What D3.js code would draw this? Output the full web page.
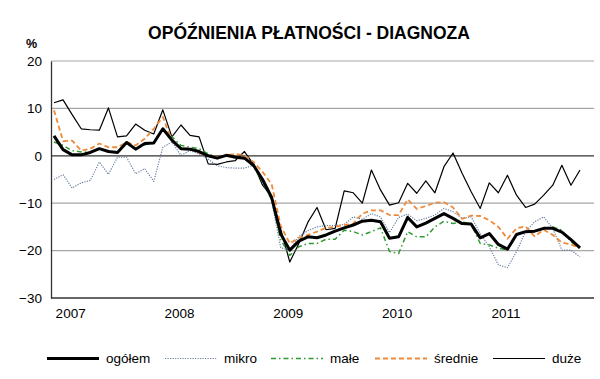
<!DOCTYPE html>
<html>
<head>
<meta charset="utf-8">
<script src="https://cdn.jsdelivr.net/npm/d3@7"></script>
<style>
  body { margin: 0; background: #fff; }
  svg { font-family: "Liberation Sans", Arial, sans-serif; }
</style>
</head>
<body>
<svg id="chart" width="600" height="379"></svg>
<script>
// Monthly survey balances, Nov 2006 - Sep 2011 (59 points)
var yearLabels = ["2007", "2008", "2009", "2010", "2011"];
var yearIndex = [2, 14, 26, 38, 50];
var yTicks = [20, 10, 0, -10, -20, -30];

var ogolem = [4.2, 1.3, 0.2, 0.2, 0.7, 1.5, 0.9, 0.7, 2.8, 1.4, 2.6, 2.7, 5.7, 3.3, 1.5, 1.4, 0.9, 0.0, -0.5, 0.1,
  -0.3, -0.5, -2.0, -5.0, -8.8, -16.5, -19.9, -18.0, -17.1, -17.3, -16.7, -15.9, -15.2, -14.6, -13.8, -13.6, -13.9, -17.4, -17.1, -13.0,
  -15.0, -14.2, -13.2, -12.2, -13.2, -14.3, -14.4, -17.3, -16.4, -18.7, -19.7, -16.6, -16.0, -15.9, -15.3, -15.3, -16.1, -17.7, -19.4];
var mikro = [-5.0, -4.0, -6.8, -5.7, -5.2, -1.3, -3.9, -0.3, -0.3, -3.8, -2.7, -5.4, 1.8, 2.9, 0.1, 1.1, 0.4, -0.7, -2.1, -2.5,
  -2.6, -2.6, -2.0, -5.1, -9.5, -19.4, -19.9, -17.0, -15.8, -15.0, -14.7, -14.7, -14.5, -12.9, -13.4, -12.2, -12.9, -16.2, -13.0, -12.3,
  -13.7, -13.2, -12.5, -11.1, -11.8, -13.2, -12.9, -16.4, -19.2, -23.0, -23.6, -20.2, -16.0, -13.9, -12.9, -15.3, -19.9, -19.9, -21.3];
var male = [2.9, 2.2, 1.1, 0.8, 0.8, 1.5, 0.9, 0.8, 2.9, 1.5, 2.3, 2.8, 5.7, 4.0, 2.2, 1.8, 1.5, 0.4, -0.3, 0.1,
  -0.3, -0.5, -2.3, -5.5, -9.3, -17.7, -21.0, -19.2, -18.5, -18.5, -17.6, -17.6, -15.7, -16.0, -16.7, -16.0, -15.2, -20.2, -20.6, -16.0,
  -17.1, -17.1, -15.0, -13.8, -14.3, -13.9, -14.5, -18.5, -18.8, -19.5, -19.9, -16.7, -16.0, -16.0, -15.3, -15.0, -15.7, -18.1, -19.5];
var srednie = [9.6, 3.1, 3.2, 1.1, 1.5, 2.6, 1.8, 1.8, 2.9, 2.2, 3.6, 5.7, 8.2, 3.1, 1.6, 1.5, 0.6, 0.1, -0.3, 0.1,
  0.4, 0.1, -1.3, -3.4, -6.0, -14.8, -18.5, -17.3, -16.7, -16.0, -15.2, -15.0, -14.6, -14.3, -12.2, -11.5, -11.5, -12.5, -12.5, -9.2,
  -11.2, -10.6, -9.9, -9.8, -10.9, -13.3, -12.6, -12.7, -13.6, -15.0, -17.5, -15.3, -14.9, -17.0, -15.6, -16.7, -18.3, -18.7, -19.4];
var duze = [11.2, 11.8, 8.7, 5.7, 5.5, 5.4, 10.1, 4.0, 4.2, 6.7, 5.4, 4.6, 9.7, 4.0, 6.5, 4.3, 4.0, -1.7, -1.8, -1.3,
  -1.0, 0.9, -1.8, -6.2, -8.6, -15.5, -22.4, -18.5, -14.0, -10.9, -15.6, -15.3, -7.4, -7.8, -10.0, -3.0, -7.2, -10.4, -9.9, -5.8,
  -7.9, -5.3, -7.8, -2.3, 0.6, -3.7, -7.6, -11.1, -5.7, -7.8, -4.1, -8.3, -10.9, -10.2, -8.3, -6.2, -2.0, -6.2, -3.0];

var series = [
  {name: "ogółem", values: ogolem, color: "#000", width: 3, dash: null},
  {name: "mikro", values: mikro, color: "#6b7fa3", width: 1.2, dash: "1.2,1.3"},
  {name: "małe", values: male, color: "#2f9a2f", width: 1.5, dash: "5,3,1.5,3"},
  {name: "średnie", values: srednie, color: "#ee8a3a", width: 1.8, dash: "5,3"},
  {name: "duże", values: duze, color: "#000", width: 1.2, dash: null}
];

var svg = d3.select("svg#chart");
var margin = {top: 61, left: 51, right: 594, bottom: 298};

var x = d3.scaleLinear()
  .domain([0, ogolem.length - 1])
  .range([54, 580]);
var y = d3.scaleLinear()
  .domain([-30, 20])
  .range([margin.bottom, margin.top]);

// title and unit
svg.append("text")
  .attr("x", 309)
  .attr("y", 39)
  .attr("text-anchor", "middle")
  .attr("font-size", "17.5px")
  .attr("font-weight", "bold")
  .text("OPÓŹNIENIA PŁATNOŚCI - DIAGNOZA");

svg.append("text")
  .attr("x", 26)
  .attr("y", 48)
  .attr("font-size", "12.5px")
  .attr("font-weight", "bold")
  .text("%");

// grid lines
svg.append("g")
  .selectAll("line")
  .data(yTicks)
  .enter().append("line")
    .attr("x1", margin.left)
    .attr("x2", margin.right)
    .attr("y1", function(d) { return y(d); })
    .attr("y2", function(d) { return y(d); })
    .attr("stroke", function(d) { return (d == 0 || d == -30) ? "#333" : "#a6a6a6"; })
    .attr("stroke-width", function(d) { return (d == 0 || d == -30) ? 1.3 : 1.2; });

// y axis
var yAxis = svg.append("g")
  .attr("transform", "translate(" + margin.left + ",0)")
  .call(d3.axisLeft(y).tickValues(yTicks).tickSize(0).tickPadding(9));
yAxis.select(".domain").attr("stroke", "#333").attr("stroke-width", 1.3);
yAxis.selectAll("text")
  .attr("font-size", "13.5px")
  .attr("font-family", "Liberation Sans, Arial, sans-serif")
  .attr("fill", "#000");

// x labels
var xAxis = svg.append("g")
  .attr("transform", "translate(-2," + margin.bottom + ")")
  .call(d3.axisBottom(x).tickValues(yearIndex).tickSize(0).tickPadding(10)
    .tickFormat(function(d, i) { return yearLabels[i]; }));
xAxis.select(".domain").remove();
xAxis.selectAll("text")
  .attr("font-size", "13.5px")
  .attr("font-family", "Liberation Sans, Arial, sans-serif")
  .attr("fill", "#000");

// lines
var line = d3.line()
  .x(function(d, i) { return x(i); })
  .y(function(d) { return y(d); });

var drawOrder = [4, 1, 2, 3, 0];
drawOrder.forEach(function(k) {
  var s = series[k];
  svg.append("path")
    .datum(s.values)
    .attr("fill", "none")
    .attr("stroke", s.color)
    .attr("stroke-width", s.width)
    .attr("stroke-dasharray", s.dash)
    .attr("stroke-linejoin", "round")
    .attr("d", line);
});

// legend
var legendX = [47, 165, 271, 375, 493];
var legend = svg.append("g").attr("transform", "translate(0,363)");
series.forEach(function(s, i) {
  legend.append("line")
    .attr("x1", legendX[i])
    .attr("x2", legendX[i] + 52)
    .attr("y1", -4.5)
    .attr("y2", -4.5)
    .attr("stroke", s.color)
    .attr("stroke-width", s.width)
    .attr("stroke-dasharray", s.dash);
  legend.append("text")
    .attr("x", legendX[i] + 59)
    .attr("y", 0)
    .attr("font-size", "13.5px")
    .text(s.name);
});
</script>
</body>
</html>
